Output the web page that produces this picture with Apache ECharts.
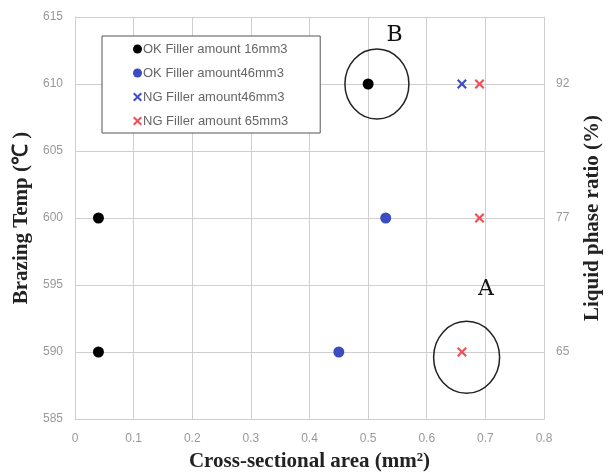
<!DOCTYPE html>
<html>
<head>
<meta charset="utf-8">
<script src="https://cdn.jsdelivr.net/npm/echarts@6/dist/echarts.min.js"></script>
<style>
  html, body { margin: 0; padding: 0; background: #fff; }
  #chart { width: 614px; height: 475px; }
</style>
</head>
<body>
<div id="chart"></div>
<script>
// series data: [cross-sectional area, brazing temp]
var okFiller16 = [[0.04, 600], [0.04, 590], [0.5, 610]];
var okFiller46 = [[0.53, 600], [0.45, 590]];
var ngFiller46 = [[0.66, 610]];
var ngFiller65 = [[0.69, 610], [0.69, 600], [0.66, 590]];

var seriesNames = [
  'OK Filler amount 16mm3',
  'OK Filler amount46mm3',
  'NG Filler amount46mm3',
  'NG Filler amount 65mm3'
];

// right axis: liquid phase ratio at each temp
var rightTickTemps = [610, 600, 590];
var rightTickLabels = ['92', '77', '65'];

// circled annotations
var annotNames = ['B', 'A'];
var annotCenters = [[0.515, 610], [0.668, 589.6]];
var annotLabelPos = [[0.545, 613.6], [0.701, 594.7]];

var crossPath = 'path://M0,1.6L1.6,0L5,3.4L8.4,0L10,1.6L6.6,5L10,8.4L8.4,10L5,6.6L1.6,10L0,8.4L3.4,5Z';
var gridColor = '#cfcfcf';
var tickColor = '#999';
var titleFont = { fontFamily: 'Liberation Serif', fontWeight: 'bold', fontSize: 21, color: '#222' };

var myChart = echarts.init(document.getElementById('chart'));

var option = {
  animation: false,
  grid: { left: 75, right: 70, top: 17, bottom: 56, outerBoundsMode: 'none', containLabel: false },
  legend: {
    orient: 'vertical',
    left: 102,
    top: 36,
    padding: [6, 32, 5, 31],
    itemGap: 10,
    itemWidth: 9,
    itemHeight: 9,
    backgroundColor: '#fff',
    borderColor: '#555',
    borderWidth: 1,
    textStyle: { color: '#666', fontSize: 13, lineHeight: 14, fontFamily: 'Liberation Sans', padding: [0, 0, 0, -4] },
    data: seriesNames
  },
  xAxis: {
    type: 'value',
    min: 0, max: 0.8, interval: 0.1,
    name: 'Cross-sectional area (mm²)',
    nameLocation: 'middle',
    nameGap: 32,
    nameTextStyle: titleFont,
    axisLine: { show: true, lineStyle: { color: gridColor } },
    axisTick: { show: false },
    axisLabel: { color: tickColor, fontSize: 12, margin: 14 },
    splitLine: { show: true, lineStyle: { color: gridColor } }
  },
  yAxis: [
    {
      type: 'value',
      min: 585, max: 615, interval: 5,
      name: 'Brazing Temp (℃ )',
      nameLocation: 'middle',
      nameRotate: 90,
      nameGap: 43,
      nameTextStyle: titleFont,
      axisLine: { show: true, lineStyle: { color: gridColor } },
      axisTick: { show: false },
      axisLabel: { color: tickColor, fontSize: 12, margin: 12 },
      splitLine: { show: true, lineStyle: { color: gridColor } }
    },
    {
      type: 'value',
      position: 'right',
      min: 585, max: 615, interval: 5,
      name: 'Liquid phase ratio (%)',
      nameLocation: 'middle',
      nameRotate: 90,
      nameGap: 38,
      nameTextStyle: titleFont,
      axisLine: { show: true, lineStyle: { color: gridColor } },
      axisTick: { show: false },
      splitLine: { show: false },
      axisLabel: {
        color: tickColor, fontSize: 12, margin: 12,
        formatter: function (v) {
          var i = rightTickTemps.indexOf(v);
          return i >= 0 ? rightTickLabels[i] : '';
        }
      }
    }
  ],
  series: [
    { name: seriesNames[0], type: 'scatter', symbol: 'circle', symbolSize: 11,
      itemStyle: { color: '#000', opacity: 1 }, data: okFiller16 },
    { name: seriesNames[1], type: 'scatter', symbol: 'circle', symbolSize: 11,
      itemStyle: { color: '#3a4cc0', opacity: 1 }, data: okFiller46 },
    { name: seriesNames[2], type: 'scatter', symbol: crossPath, symbolSize: 10,
      itemStyle: { color: '#3f4fc4', opacity: 1 }, data: ngFiller46 },
    { name: seriesNames[3], type: 'scatter', symbol: crossPath, symbolSize: 10,
      itemStyle: { color: '#f0505a', opacity: 1 }, data: ngFiller65 }
  ]
};
myChart.setOption(option);

// ellipses and letters placed from data coords
var rad = [[32, 35], [33, 36]];
var graphics = [];
for (var i = 0; i < annotNames.length; i++) {
  var c = myChart.convertToPixel({ gridIndex: 0 }, annotCenters[i]);
  var t = myChart.convertToPixel({ gridIndex: 0 }, annotLabelPos[i]);
  graphics.push({
    type: 'ellipse',
    shape: { cx: c[0], cy: c[1], rx: rad[i][0], ry: rad[i][1] },
    style: { fill: null, stroke: '#222', lineWidth: 1.5 },
    z: 10
  });
  graphics.push({
    type: 'text',
    x: t[0], y: t[1],
    style: {
      text: annotNames[i], fill: '#111',
      font: '22px "DejaVu Serif"',
      align: 'center', verticalAlign: 'middle'
    },
    z: 10
  });
}
myChart.setOption({ graphic: graphics });
</script>
</body>
</html>
